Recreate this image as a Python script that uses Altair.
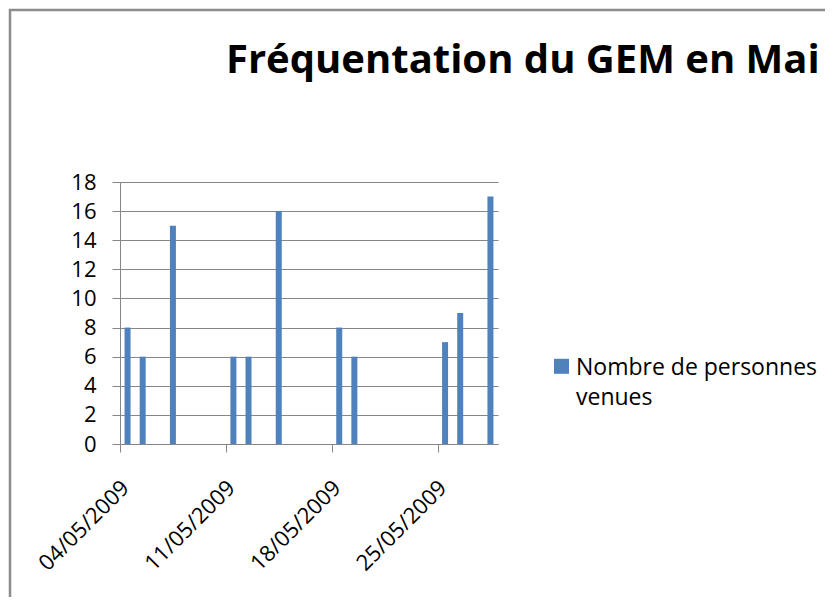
import altair as alt
import pandas as pd

# ---- data ----
dates = ["04/05/2009", "05/05/2009", "07/05/2009", "11/05/2009", "12/05/2009",
         "14/05/2009", "18/05/2009", "19/05/2009", "25/05/2009", "26/05/2009",
         "28/05/2009"]
visitors = [8, 6, 15, 6, 6, 16, 8, 6, 7, 9, 17]
series_name = "Nombre de personnes venues"
legend_text = "Nombre de personnes\nvenues"
title_text = "Fréquentation du GEM en Mai"
tick_days = [4, 11, 18, 25]
y_ticks = list(range(0, 19, 2))

df = pd.DataFrame({"date": dates, "visitors": visitors, "serie": series_name})

GRAY = "#868686"
BLUE = "#4F81BD"
FONT = "Open Sans"

x_scale = alt.Scale(domain=[alt.DateTime(year=2009, month=5, date=4),
                            alt.DateTime(year=2009, month=5, date=29)],
                    padding=0)
x_axis = alt.Axis(values=[alt.DateTime(year=2009, month=5, date=d) for d in tick_days],
                  format="%d/%m/%Y", labelAngle=-45, labelAlign="right",
                  labelBaseline="middle", grid=False, title=None,
                  tickSize=8, labelPadding=32, labelOffset=5, labelFontSize=22,
                  labelFont=FONT, labelColor="#000000", domainColor=GRAY,
                  tickColor=GRAY)
y_axis = alt.Axis(values=y_ticks, grid=True, gridColor=GRAY, title=None,
                  tickSize=8, labelPadding=16, labelFontSize=22, labelFont=FONT,
                  labelColor="#000000", domainColor=GRAY, tickColor=GRAY)

bars = alt.Chart(df).transform_calculate(
    t="time(timeParse(datum.date, '%d/%m/%Y')) + 43200000"
).mark_bar(size=6, color=BLUE).encode(
    x=alt.X("t:T", scale=x_scale, axis=x_axis),
    y=alt.Y("visitors:Q", scale=alt.Scale(domain=[0, 18], nice=False), axis=y_axis),
)

one = pd.DataFrame({"title": [title_text], "legend": [legend_text]})

border = alt.Chart(one).mark_rect(fill=None, stroke="#8C8C8C", strokeWidth=2.5).encode(
    x=alt.value(-110), x2=alt.value(900), y=alt.value(-172), y2=alt.value(600)
)

title = alt.Chart(one).mark_text(
    font=FONT, fontSize=40, fontWeight="bold", align="left", baseline="alphabetic",
    color="#000000"
).encode(text="title:N", x=alt.value(106), y=alt.value(-109))

legend_sym = alt.Chart(one).mark_square(size=225, color=BLUE, opacity=1).encode(
    x=alt.value(441.5), y=alt.value(184.3)
)
legend_lbl = alt.Chart(one).mark_text(
    font=FONT, fontSize=23, align="left", baseline="alphabetic", lineBreak="\n",
    lineHeight=30, color="#000000"
).encode(text="legend:N", x=alt.value(456), y=alt.value(193.3))

chart = alt.layer(border, bars, title, legend_sym, legend_lbl).properties(
    width=378, height=262,
    autosize=alt.AutoSizeParams(type="none"),
    padding={"left": 112, "top": 174, "right": 327, "bottom": 153},
    background="#FFFFFF",
).configure_view(stroke=None)

chart.save("out.html", embed_options={"renderer": "svg", "actions": False})
